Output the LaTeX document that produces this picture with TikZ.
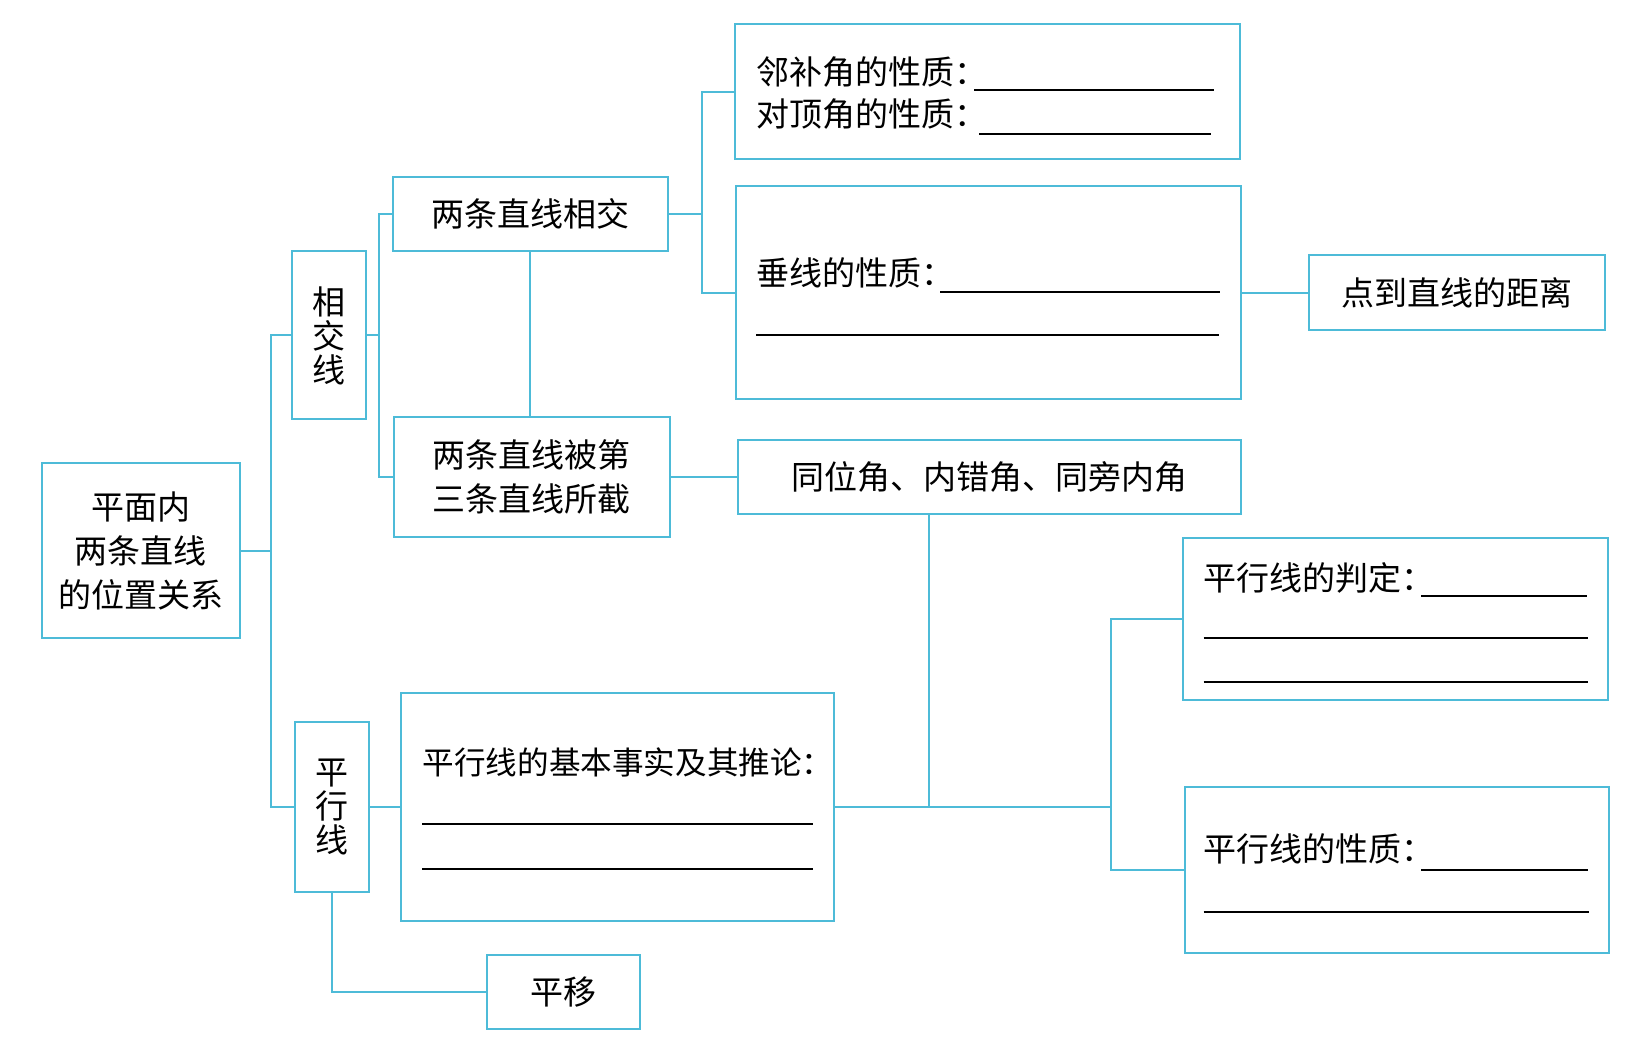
\documentclass[tikz,border=0pt]{standalone}
\usepackage{fontspec}
\newfontfamily\zhfont{Noto Sans CJK SC}
\usepackage{tikz}
\usetikzlibrary{positioning}
\definecolor{framecyan}{RGB}{77,187,216}

\begin{document}
\begin{tikzpicture}[x=0.5pt,y=-0.5pt,
  box/.style={draw=framecyan, line width=1pt, rectangle, inner sep=0pt, align=center,
    font=\zhfont\fontsize{16.5}{22}\selectfont},
  upright/.style={box, font=\zhfont\fontsize{16.5}{17}\selectfont},
  boxtext/.style={anchor=west, inner sep=0pt, font=\zhfont\fontsize{16.5}{20}\selectfont},
  link/.style={draw=framecyan, line width=1pt},
  blank/.style={black, line width=1pt}]
\useasboundingbox (0,0) rectangle (1651,1047);
\node[box, minimum width=99pt, minimum height=87.5pt] (main) at (141,551) {平面内\\两条直线\\的位置关系};
\node[upright, minimum width=37pt, minimum height=84pt] (xjx) at (328.5,335.5) {相\\交\\线};
\node[upright, minimum width=37pt, minimum height=85pt] (pxx) at (331.7,807) {平\\行\\线};
\node[box, minimum width=137.5pt, minimum height=37pt] (xj) at (530,213.7) {两条直线相交};
\node[box, minimum width=138pt, minimum height=60pt] (jj) at (531.7,477) {两条直线被第\\三条直线所截};
\node[box, minimum width=252.7pt, minimum height=67.4pt] (lbj) at (987.6,91.6) {};
\node[box, minimum width=252.7pt, minimum height=106.3pt] (cx) at (988.7,292.7) {};
\node[box, minimum width=148pt, minimum height=37.4pt] (jl) at (1456.7,292.7) {点到直线的距离};
\node[box, minimum width=251.7pt, minimum height=37pt] (tw) at (989.7,477) {同位角、内错角、同旁内角};
\node[box, minimum width=216.4pt, minimum height=114.3pt] (jb) at (617.5,807) {};
\node[box, minimum width=212.2pt, minimum height=81pt] (pd) at (1395.6,619) {};
\node[box, minimum width=212.2pt, minimum height=83.2pt] (xz) at (1396.7,870) {};
\node[box, minimum width=76.4pt, minimum height=37pt] (py) at (563.8,992) {平移};

\node[boxtext] (lbjt) at (756,71.6) {邻补角的性质：};
\node[boxtext] (djt) at (756,113.7) {对顶角的性质：};
\node[boxtext] (cxt) at (756,272.7) {垂线的性质：};
\node[boxtext, font=\zhfont\fontsize{15.8}{20}\selectfont] (jbt) at (422.2,762.3) {平行线的基本事实及其推论：};
\node[boxtext] (pdt) at (1203.5,578) {平行线的判定：};
\node[boxtext] (xzt) at (1203.5,848.6) {平行线的性质：};

\draw[blank] (974,90.5) -- (1214,90.5);
\draw[blank] (979,133.7) -- (1211,133.7);
\draw[blank] (940,291.6) -- (1220,291.6);
\draw[blank] (756,334.8) -- (1219,334.8);
\draw[blank] (422.2,824.4) -- (812.8,824.4);
\draw[blank] (422.2,868.6) -- (812.8,868.6);
\draw[blank] (1421.4,596) -- (1586.7,596);
\draw[blank] (1203.5,638) -- (1587.8,638);
\draw[blank] (1203.5,682.3) -- (1587.8,682.3);
\draw[blank] (1421.4,869.7) -- (1587.8,869.7);
\draw[blank] (1203.5,911.8) -- (1588.8,911.8);

\coordinate (trunk) at (270.6,0);
\coordinate (fork1) at (379,0);
\coordinate (fork2) at (702.3,0);
\coordinate (fork3) at (1110.8,0);
\coordinate (drop) at (928.7,807);

\draw[link] (main.east) -- (main.east -| trunk);
\draw[link] (xjx.west) -- (xjx.west -| trunk) -- (pxx.west -| trunk) -- (pxx.west);
\draw[link] (xjx.east) -- (xjx.east -| fork1);
\draw[link] (xj.west) -- (xj.west -| fork1) -- (jj.west -| fork1) -- (jj.west);
\draw[link] (xj.south) -- (xj.south |- jj.north);
\draw[link] (xj.east) -- (xj.east -| fork2);
\draw[link] (lbj.west) -- (lbj.west -| fork2) -- (cx.west -| fork2) -- (cx.west);
\draw[link] (cx.east) -- (jl.west);
\draw[link] (jj.east) -- (tw.west);
\draw[link] (pxx.east) -- (jb.west);
\draw[link] (jb.east) -- (jb.east -| fork3);
\draw[link] (drop) -- (drop |- tw.south);
\draw[link] (pd.west) -- (pd.west -| fork3) -- (xz.west -| fork3) -- (xz.west);
\draw[link] (pxx.south) |- (py.west);
\end{tikzpicture}
\end{document}
